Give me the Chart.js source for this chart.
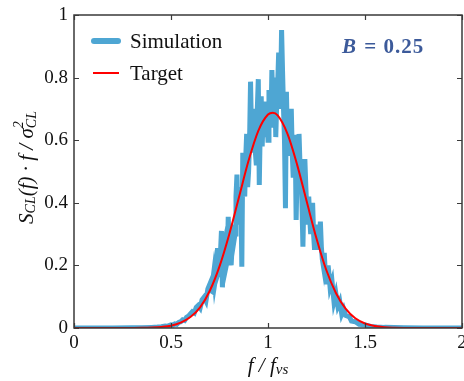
<!DOCTYPE html>
<html>
<head>
<meta charset="utf-8">
<script src="https://cdn.jsdelivr.net/npm/chart.js@4.4.1/dist/chart.umd.min.js"></script>
<style>
html,body{margin:0;padding:0;background:#fff;}
#wrap{width:464px;height:381px;position:relative;}
</style>
</head>
<body>
<div id="wrap"><canvas id="c" width="464" height="381"></canvas></div>
<script>
// ---- data ----
const simF = [
  0.00,0.20,0.30,0.35,0.40,0.43,0.45,0.47,0.48,0.50,
  0.51,0.52,0.53,0.54,0.55,0.56,0.57,0.58,0.59,0.60,
  0.61,0.62,0.63,0.64,0.65,0.66,0.67,0.68,0.69,
  0.700,0.705,0.710,0.715,0.720,0.725,0.730,0.735,0.740,0.745,
  0.750,0.755,0.760,0.765,0.770,0.775,0.780,0.785,0.790,0.795,
  0.800,0.805,0.810,0.815,0.820,0.825,0.830,0.835,0.840,0.845,
  0.850,0.855,0.860,0.865,0.870,0.875,0.880,0.885,0.890,0.895,
  0.900,0.905,0.910,0.915,0.920,0.925,0.930,0.935,0.940,0.945,
  0.950,0.955,0.960,0.965,0.970,0.975,0.980,0.985,0.990,0.995,
  1.000,1.005,1.010,1.015,1.020,1.025,1.030,1.035,1.040,1.045,
  1.050,1.055,1.060,1.065,1.070,1.075,1.080,1.085,1.090,1.095,
  1.100,1.105,1.110,1.115,1.120,1.125,1.130,1.135,1.140,1.145,
  1.150,1.155,1.160,1.165,1.170,1.175,1.180,1.185,1.190,1.195,
  1.200,1.205,1.210,1.215,1.220,1.225,1.230,1.235,1.240,1.245,
  1.250,1.255,1.260,1.265,1.270,1.275,1.280,1.285,1.290,1.295,
  1.300,
  1.31,1.32,1.33,1.34,1.35,1.36,1.37,1.38,1.39,1.40,
  1.42,1.43,1.45,1.47,1.50,1.53,1.56,1.60,1.70,1.80,2.00];
const simV = [
  0.000,0.000,0.001,0.001,0.002,0.003,0.004,0.006,0.005,0.010,
  0.009,0.013,0.012,0.018,0.020,0.026,0.024,0.034,0.038,0.045,
  0.052,0.048,0.066,0.072,0.064,0.090,0.098,0.086,0.125,
  0.140,0.120,0.118,0.150,0.175,0.140,0.160,0.210,0.255,0.180,
  0.190,0.240,0.310,0.130,0.230,0.270,0.285,0.200,0.215,0.355,
  0.260,0.290,0.200,0.260,0.330,0.280,0.300,0.420,0.490,0.350,
  0.380,0.330,0.450,0.196,0.560,0.470,0.420,0.540,0.620,0.450,
  0.500,0.600,0.787,0.620,0.560,0.700,0.640,0.560,0.520,0.700,
  0.795,0.457,0.640,0.740,0.580,0.680,0.700,0.723,0.610,0.660,
  0.600,0.760,0.700,0.640,0.824,0.720,0.650,0.800,0.610,0.720,
  0.780,0.880,0.700,0.760,0.952,0.820,0.700,0.600,0.383,0.755,
  0.600,0.680,0.550,0.620,0.700,0.560,0.480,0.560,0.617,0.345,
  0.500,0.440,0.620,0.520,0.500,0.400,0.260,0.420,0.540,0.450,
  0.380,0.330,0.420,0.350,0.300,0.360,0.400,0.300,0.250,0.290,
  0.330,0.300,0.280,0.250,0.340,0.260,0.220,0.200,0.240,0.180,
  0.140,
  0.200,0.130,0.150,0.085,0.110,0.070,0.085,0.045,0.060,0.040,
  0.035,0.022,0.020,0.012,0.010,0.005,0.003,0.002,0.001,0.000,0.000];

const targetF = [0.00,0.20,0.30,0.35,0.40,0.45,0.50,0.55,0.60,0.65,0.70,0.75,0.80,0.85,0.90,0.95,1.00,1.025,1.05,1.10,
  1.15,1.20,1.25,1.30,1.35,1.40,1.45,1.50,1.55,1.60,1.65,1.70,1.80,2.00];
const targetV = [0.000,0.000,0.0002,0.0005,0.0015,0.0035,0.0075,0.017,0.035,0.066,0.119,0.197,0.299,0.417,0.535,0.630,0.682,0.688,0.679,0.621,
  0.522,0.403,0.286,0.186,0.112,0.062,0.031,0.0145,0.0062,0.0024,0.0009,0.0003,0.0000,0.000];

const xTicks = [0, 0.5, 1, 1.5, 2];
const yTicks = [0, 0.2, 0.4, 0.6, 0.8, 1];
const seriesNames = ['Simulation', 'Target'];
const annotationText = ['B', ' = 0.25'];

const simColor = '#4ea6d3';
const tgtColor = '#ff0000';
const frameColor = '#3a3a3a';
const serif = '"Liberation Serif", "Times New Roman", serif';

function pts(xs, ys){ return xs.map((x,i)=>({x:x, y:ys[i]})); }

const decor = {
  id: 'decor',
  afterDraw(chart){
    const ctx = chart.ctx, ca = chart.chartArea;
    const xs = chart.scales.x, ys = chart.scales.y;
    ctx.save();
    // frame
    ctx.strokeStyle = frameColor; ctx.lineWidth = 1.5;
    ctx.strokeRect(ca.left, ca.top, ca.right - ca.left, ca.bottom - ca.top);
    // inward ticks on all sides
    ctx.lineWidth = 1.2;
    ctx.beginPath();
    xTicks.forEach(v=>{
      const p = Math.round(xs.getPixelForValue(v)) + 0.5;
      ctx.moveTo(p, ca.bottom); ctx.lineTo(p, ca.bottom - 5);
      ctx.moveTo(p, ca.top); ctx.lineTo(p, ca.top + 5);
    });
    yTicks.forEach(v=>{
      const p = Math.round(ys.getPixelForValue(v)) + 0.5;
      ctx.moveTo(ca.left, p); ctx.lineTo(ca.left + 5, p);
      ctx.moveTo(ca.right, p); ctx.lineTo(ca.right - 5, p);
    });
    ctx.stroke();

    // legend
    const ds = chart.data.datasets;
    ctx.lineCap = 'round';
    ctx.strokeStyle = ds[0].borderColor; ctx.lineWidth = 6;
    ctx.beginPath(); ctx.moveTo(94, 41); ctx.lineTo(118, 41); ctx.stroke();
    ctx.lineCap = 'butt';
    ctx.strokeStyle = ds[1].borderColor; ctx.lineWidth = 2;
    ctx.beginPath(); ctx.moveTo(93, 73); ctx.lineTo(119, 73); ctx.stroke();
    ctx.fillStyle = '#111';
    ctx.font = '21px ' + serif;
    ctx.textBaseline = 'middle'; ctx.textAlign = 'left';
    ctx.fillText(ds[0].label, 130, 42);
    ctx.fillText(ds[1].label, 130, 74);

    // annotation
    ctx.fillStyle = '#3c5a9a';
    try { ctx.letterSpacing = '1px'; } catch(e) {}
    ctx.font = 'italic bold 21px ' + serif;
    let ax = 342;
    ctx.fillText(annotationText[0], ax, 48);
    ax += ctx.measureText(annotationText[0]).width + 1;
    ctx.font = 'bold 21px ' + serif;
    ctx.fillText(annotationText[1], ax, 48);
    try { ctx.letterSpacing = '0px'; } catch(e) {}

    // x title: f / f_vs
    ctx.fillStyle = '#111';
    drawRich(ctx, [
      {t:'f / f', s:21, dy:0},
      {t:'vs', s:15, dy:4}
    ], (ca.left + ca.right)/2, 366, 0);

    // y title: S_CL(f) · f / σ^2_CL
    drawRich(ctx, [
      {t:'S', s:21, dy:0},
      {t:'CL', s:14, dy:4},
      {t:'(f) \u00b7 f / \u03c3', s:21, dy:0},
      {stack:[{t:'2', s:14, dy:-8},{t:'CL', s:14, dy:5}]}
    ], 27, (ca.top + ca.bottom)/2 - 4, -Math.PI/2);
    ctx.restore();
  }
};

function drawRich(ctx, parts, cx, cy, rot){
  const font = s => 'italic ' + s + 'px ' + serif;
  let total = 0;
  const widths = parts.map(p=>{
    if(p.stack){
      let w = 0;
      p.stack.forEach(q=>{ ctx.font = font(q.s); w = Math.max(w, ctx.measureText(q.t).width); });
      return w;
    }
    ctx.font = font(p.s); return ctx.measureText(p.t).width;
  });
  widths.forEach(w=> total += w);
  ctx.save();
  ctx.translate(cx, cy); ctx.rotate(rot);
  ctx.textBaseline = 'middle'; ctx.textAlign = 'left';
  let x = -total/2;
  parts.forEach((p,i)=>{
    if(p.stack){
      p.stack.forEach(q=>{ ctx.font = font(q.s); ctx.fillText(q.t, x, q.dy); });
    } else {
      ctx.font = font(p.s); ctx.fillText(p.t, x, p.dy);
    }
    x += widths[i];
  });
  ctx.restore();
}

const fmt = v => String(Math.round(v * 100) / 100);

new Chart(document.getElementById('c'), {
  type: 'line',
  data: {
    datasets: [
      { label: seriesNames[0], data: pts(simF, simV), borderColor: simColor, borderWidth: 5, order: 2,
        pointRadius: 0, tension: 0, fill: false, borderJoinStyle: 'miter', borderCapStyle: 'butt' },
      { label: seriesNames[1], data: pts(targetF, targetV), borderColor: tgtColor, borderWidth: 2, order: 1,
        pointRadius: 0, tension: 0.4, cubicInterpolationMode: 'monotone', fill: false }
    ]
  },
  options: {
    responsive: false, animation: false,
    layout: { autoPadding: false, padding: { top: 15, right: 2, left: 0, bottom: 0 } },
    plugins: { legend: { display: false }, tooltip: { enabled: false } },
    scales: {
      x: {
        type: 'linear', min: 0, max: 2,
        afterBuildTicks(s){ s.ticks = xTicks.map(v=>({value:v})); },
        afterFit(s){ s.height = 53; s.paddingLeft = 0; s.paddingRight = 0; },
        grid: { display: false, drawTicks: false },
        border: { display: false },
        ticks: { color: '#111', font: { family: serif, size: 19 }, padding: 4, maxRotation: 0, callback: fmt }
      },
      y: {
        type: 'linear', min: 0, max: 1,
        afterBuildTicks(s){ s.ticks = yTicks.map(v=>({value:v})); },
        afterFit(s){ s.width = 74; s.paddingTop = 0; s.paddingBottom = 0; },
        grid: { display: false, drawTicks: false },
        border: { display: false },
        ticks: { color: '#111', font: { family: serif, size: 19 }, padding: 6, callback: fmt }
      }
    }
  },
  plugins: [decor]
});
</script>
</body>
</html>
